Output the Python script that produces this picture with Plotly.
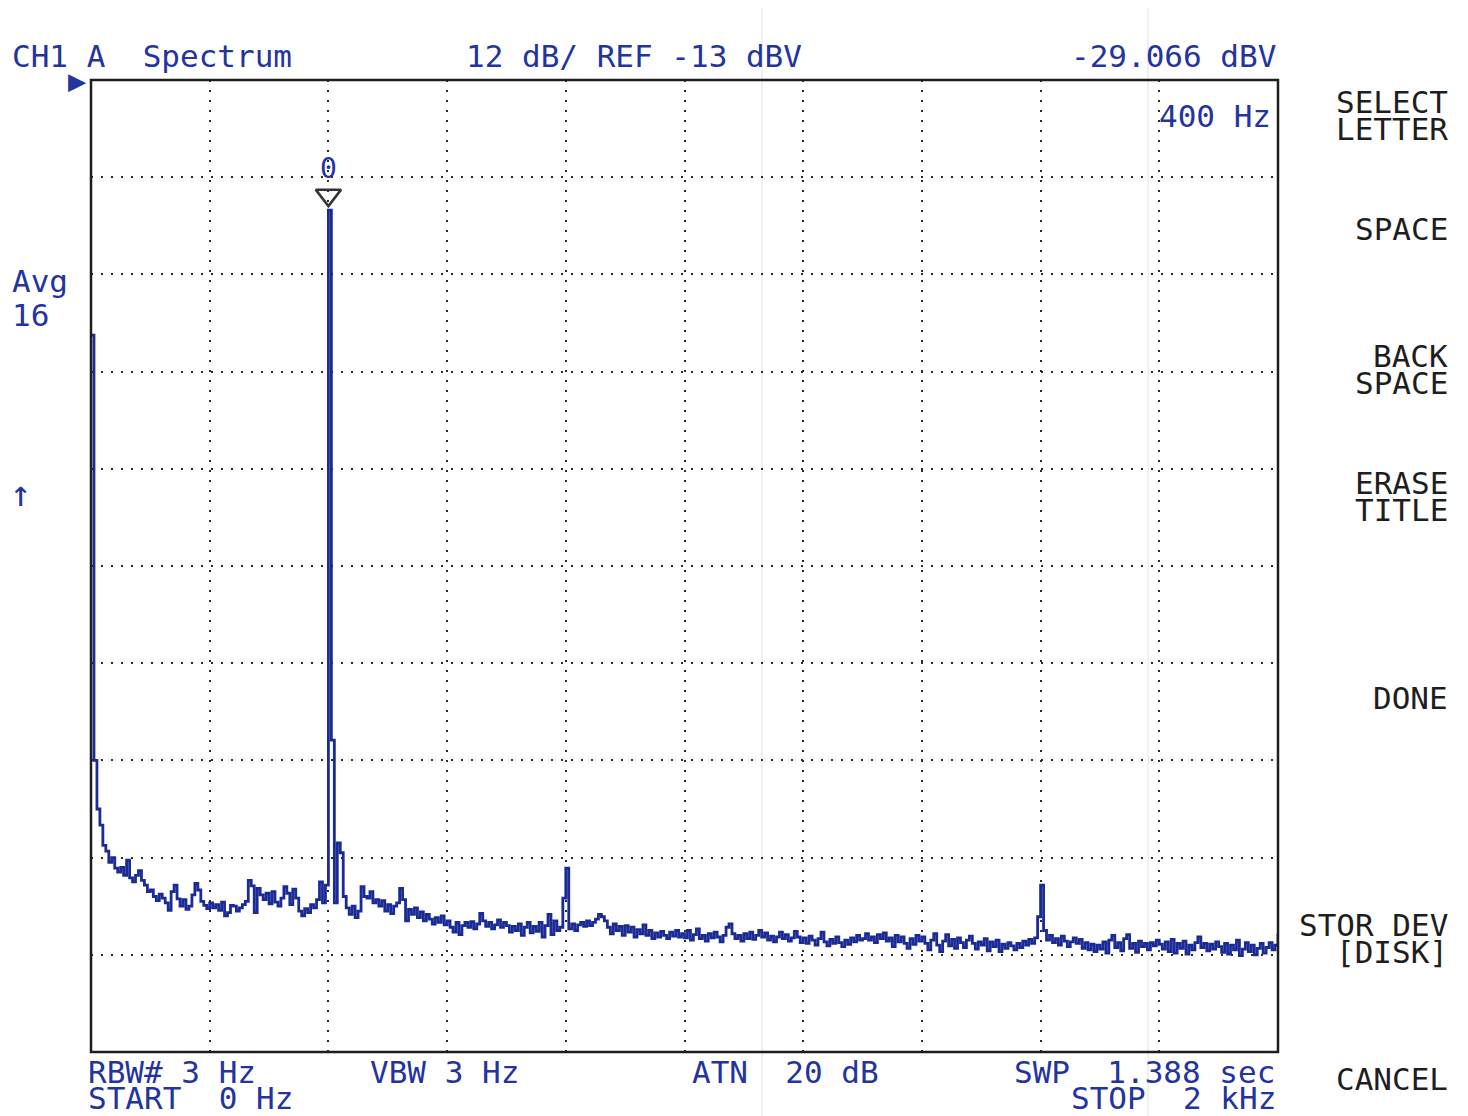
import numpy as np
import plotly.graph_objects as go

# ---------------- data ----------------
freq_start_hz = 0
freq_stop_hz = 2000
freq_step_hz = 5
ref_level_dbv = -13
db_per_div = 12
n_div = 10
freq_per_div = 200

level_dbv = [
    # 0 - 95 Hz
    -44.5, -97.0, -103.0, -105.0, -107.5, -108.2, -109.6, -109.0, -110.3, -110.8,
    -110.2, -111.2, -109.3, -111.5, -112.0, -111.2, -110.6, -111.8, -112.4, -113.2,
    # 100 - 195 Hz
    -113.0, -113.8, -114.3, -113.5, -114.0, -114.6, -115.5, -113.2, -112.4, -114.1,
    -115.0, -114.2, -115.4, -115.0, -113.6, -112.2, -113.0, -114.4, -114.9, -115.3,
    # 200 - 295 Hz
    -114.6, -115.2, -114.8, -115.5, -114.5, -116.2, -115.8, -114.9, -115.0, -115.6,
    -115.2, -114.8, -114.4, -111.8, -112.5, -115.8, -112.8, -113.6, -114.2, -113.4,
    # 300 - 395 Hz
    -114.7, -113.2, -114.5, -115.0, -114.0, -112.6, -113.4, -114.8, -112.9, -114.0,
    -115.6, -116.2, -115.3, -115.8, -114.8, -115.2, -114.2, -112.0, -114.6, -112.4,
    # 400 - 495 Hz
    -29.066, -94.5, -114.6, -107.2, -108.4, -113.8, -115.2, -116.0, -115.0, -116.4,
    -115.6, -112.6, -113.8, -114.0, -113.2, -114.6, -114.2, -115.0, -114.3, -115.6,
    # 500 - 595 Hz
    -114.8, -115.9, -115.0, -114.6, -112.8, -114.2, -116.8, -115.4, -116.0, -115.2,
    -116.4, -115.7, -116.8, -116.0, -116.6, -117.2, -116.4, -117.0, -116.2, -117.3,
    # 600 - 695 Hz
    -116.8, -117.6, -118.2, -117.0, -118.5, -117.4, -117.0, -117.6, -116.9, -117.8,
    -117.2, -115.9, -116.8, -117.5, -117.0, -117.8, -117.3, -116.7, -117.6, -117.0,
    # 700 - 795 Hz
    -117.4, -118.2, -117.5, -118.0, -117.2, -118.6, -117.6, -117.0, -118.3, -117.5,
    -118.1, -117.0, -118.8, -117.4, -116.0, -118.5, -116.8, -118.0, -117.6, -114.0,
    # 800 - 895 Hz
    -110.3, -117.8, -117.2, -118.0, -117.3, -117.0, -117.5, -116.8, -117.4, -117.0,
    -116.6, -116.0, -116.3, -116.8, -117.6, -118.4, -117.2, -118.0, -117.5, -118.6,
    # 900 - 995 Hz
    -117.4, -118.2, -117.6, -118.8, -117.9, -118.4, -117.3, -118.6, -118.0, -119.0,
    -118.3, -118.8, -118.1, -118.6, -119.0, -118.2, -118.7, -118.0, -118.8, -118.4,
    # 1000 - 1095 Hz
    -118.9, -118.0, -119.2, -118.5, -117.8, -119.0, -118.6, -119.3, -118.4, -118.9,
    -118.2, -118.8, -119.4, -118.6, -117.6, -117.2, -118.4, -119.0, -118.6, -119.3,
    # 1100 - 1195 Hz
    -118.4, -119.0, -118.2, -119.1, -118.6, -118.0, -118.8, -118.3, -119.2, -118.7,
    -119.4, -118.8, -118.2, -119.0, -118.5, -119.3, -118.9, -118.1, -118.8, -119.5,
    # 1200 - 1295 Hz
    -118.9, -119.6, -118.7, -119.2, -119.8, -119.0, -118.2, -119.4, -119.9, -119.1,
    -119.6, -118.8, -119.5, -120.0, -119.2, -119.7, -118.9, -119.4, -118.6, -119.2,
    # 1300 - 1395 Hz
    -119.0, -118.4, -119.2, -118.8, -119.5, -118.5, -119.0, -118.3, -119.3, -118.9,
    -120.0, -118.6, -119.4, -118.8, -119.6, -120.2, -119.0, -119.7, -118.6, -119.3,
    # 1400 - 1495 Hz
    -118.8, -119.6, -120.4, -119.2, -118.4, -119.8, -120.6, -119.3, -118.5, -119.9,
    -119.1, -120.2, -118.9, -119.5, -120.1, -119.2, -118.7, -119.6, -120.3, -119.4,
    # 1500 - 1595 Hz
    -119.8, -119.0, -120.5, -119.4, -120.0, -119.2, -120.6, -119.7, -120.2, -119.5,
    -119.9, -120.4, -119.6, -120.1, -119.3, -119.8, -119.1, -119.6, -118.9, -116.3,
    # 1600 - 1695 Hz
    -112.4, -118.0, -119.2, -118.6, -119.5, -119.0, -119.8, -118.7, -119.3, -120.0,
    -119.4, -118.9, -119.6, -119.1, -120.2, -119.5, -120.4, -119.7, -120.6, -119.8,
    # 1700 - 1795 Hz
    -120.3, -119.4, -120.8, -119.2, -118.6, -120.1, -119.5, -120.5, -119.0, -118.5,
    -120.2, -119.6, -120.7, -119.3, -120.0, -119.6, -120.4, -119.5, -119.9, -119.2,
    # 1800 - 1895 Hz
    -119.7, -120.3, -119.4, -120.6, -119.1, -120.8, -119.6, -120.2, -119.3, -120.9,
    -119.8, -120.4, -119.5, -118.8, -120.1, -119.6, -120.5, -119.7, -120.3, -119.4,
    # 1900 - 1995 Hz
    -120.0, -120.7, -119.6, -120.9, -119.8, -120.4, -119.2, -121.1, -120.3, -119.5,
    -120.6, -119.8, -121.0, -120.2, -119.6, -120.8, -120.1, -119.5, -120.4, -119.8,
    # 2000 Hz
    -118.4,
]

marker_freq_hz = 400
marker_level_dbv = -29.066

header_left = "CH1 A  Spectrum"
header_mid = "12 dB/ REF -13 dBV"
header_right = "-29.066 dBV"
marker_freq_label = "400 Hz"
avg_label = ["Avg", "16"]
bottom_row1 = ["RBW# 3 Hz", "VBW 3 Hz", "ATN  20 dB", "SWP  1.388 sec"]
bottom_row2 = ["START  0 Hz", "STOP  2 kHz"]
softkeys = [["SELECT", "LETTER"], ["SPACE"], ["BACK", "SPACE"], ["ERASE", "TITLE"],
            ["DONE"], ["STOR DEV", "[DISK]"], ["CANCEL"]]

# ---------------- layout constants (reference pixel coordinates) ----------------
W, H = 1468, 1116
OFF = 8                      # page body margin of the browser
L, R, T, B = 91, 1278, 80, 1052
BLUE = "#23339f"
TRACE = "#1b2b95"
BLACK = "#1e1e1e"
FONT = "DejaVu Sans Mono"
FS = 31

freq_hz = np.arange(freq_start_hz, freq_stop_hz + freq_step_hz, freq_step_hz)
y_bottom = ref_level_dbv - db_per_div * n_div


def px(x):
    return (x - L) / (R - L)


def py(y):
    return (B - y) / (B - T)


def nb(s):
    return s.replace(" ", "\u00a0")


fig = go.Figure()
fig.add_trace(go.Scatter(
    x=freq_hz, y=level_dbv, mode="lines",
    line=dict(color=TRACE, width=2.8, shape="hv"),
    hoverinfo="skip", showlegend=False,
))

# marker triangle just above the peak (offset 15 px expressed in dB)
db_per_px = db_per_div * n_div / (B - T)
fig.add_trace(go.Scatter(
    x=[marker_freq_hz], y=[marker_level_dbv + 15 * db_per_px], mode="markers",
    marker=dict(symbol="triangle-down-open", size=22, color="#333333",
                line=dict(width=2.5, color="#333333")),
    hoverinfo="skip", showlegend=False,
))

ann = []


def text(x, y, s, anchor="left", color=BLUE, size=FS):
    ann.append(dict(
        x=px(x), y=py(y), xref="paper", yref="paper", text=nb(s), showarrow=False,
        xanchor=anchor, yanchor="middle",
        font=dict(family=FONT, size=size, color=color),
    ))


text(10, 56, header_left)
text(464, 56, header_mid)
text(1278, 56, header_right, anchor="right")
text(1273, 116, marker_freq_label, anchor="right")
text(10, 281, avg_label[0])
text(10, 315, avg_label[1])
text(8, 493, "\u2191", size=36)
text(66, 80, "\u25B6", size=30)

# marker label above the peak
ann.append(dict(x=marker_freq_hz, y=marker_level_dbv, xref="x", yref="y",
                text="0", showarrow=False, xanchor="center", yanchor="middle",
                yshift=42, font=dict(family=FONT, size=28, color=BLUE)))

row1_x = [86, 368, 690, 1012]
for s, x in zip(bottom_row1, row1_x):
    text(x, 1072, s)
text(86, 1098, bottom_row2[0])
text(1278, 1098, bottom_row2[1], anchor="right")

soft_y = [[102, 129], [229], [356, 383], [483, 510], [698], [925, 952], [1079]]
for lines, ys in zip(softkeys, soft_y):
    for s, y in zip(lines, ys):
        text(1450, y, s, anchor="right", color=BLACK)

shapes = [
    dict(type="rect", xref="paper", yref="paper", x0=0, x1=1, y0=0, y1=1,
         line=dict(color=BLACK, width=2.5), layer="above"),
    dict(type="line", xref="paper", yref="paper", x0=px(762), x1=px(762),
         y0=py(OFF), y1=py(H), line=dict(color="#e2e2e2", width=1), layer="below"),
    dict(type="line", xref="paper", yref="paper", x0=px(1148), x1=px(1148),
         y0=py(OFF), y1=py(H), line=dict(color="#e2e2e2", width=1), layer="below"),
]

grid = dict(showgrid=True, gridcolor="#2a2a2a", gridwidth=2, griddash="2px,8px",
            showticklabels=False, ticks="", zeroline=False, showline=False)

FW, FH = W - OFF, H - OFF
fig.update_layout(
    width=FW, height=FH,
    margin=dict(l=L - OFF, r=FW - (R - OFF), t=T - OFF, b=FH - (B - OFF), pad=0),
    paper_bgcolor="white", plot_bgcolor="white",
    xaxis=dict(range=[freq_start_hz, freq_stop_hz], tick0=freq_start_hz,
               dtick=freq_per_div, **grid),
    yaxis=dict(range=[y_bottom, ref_level_dbv], tick0=ref_level_dbv,
               dtick=db_per_div, **grid),
    annotations=ann, shapes=shapes, showlegend=False,
)

fig.write_html("out.html")
